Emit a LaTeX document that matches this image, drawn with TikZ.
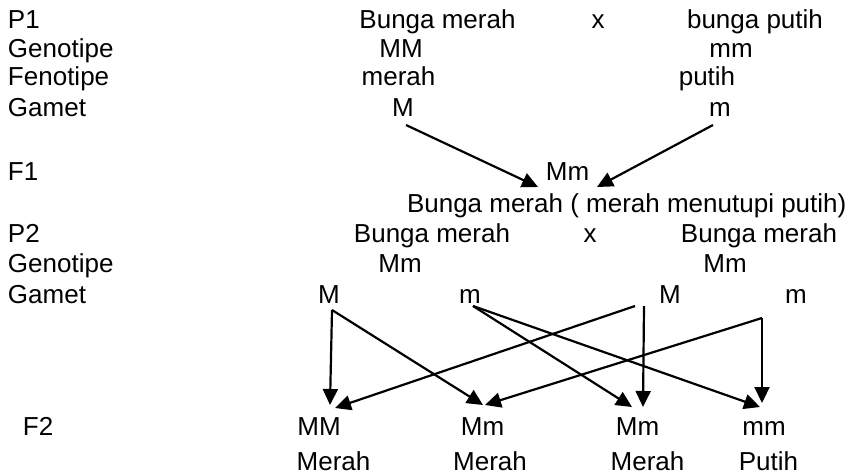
\documentclass[tikz,border=0pt]{standalone}
\usepackage{fontspec}
\setmainfont{Liberation Sans}
\usetikzlibrary{arrows.meta}
\begin{document}
\begin{tikzpicture}[x=1pt,y=-1pt,
  txt/.style={inner sep=0pt,outer sep=0pt,anchor=base,font=\fontsize{26}{30}\selectfont},
  lbl/.style={txt,anchor=base west},
  arr/.style={line width=2.2pt,-{Triangle[length=16pt,width=15pt]}}]
\useasboundingbox[fill=white] (0,0) rectangle (856,476);
% left labels
\node[lbl] (lP1) at (8,28.5) {P1};
\node[lbl] (lG1) at (8,57.5) {Genotipe};
\node[lbl] (lF1) at (8,85.5) {Fenotipe};
\node[lbl] (lGa1) at (8,117) {Gamet};
\node[lbl] (lFF1) at (8,180) {F1};
\node[lbl] (lP2) at (8,242) {P2};
\node[lbl] (lG2) at (8,272) {Genotipe};
\node[lbl] (lGa2) at (8,303) {Gamet};
\node[lbl] (lFF2) at (23,435) {F2};
% P1
\node[txt] (p1a) at (437.5,28.5) {Bunga merah};
\node[txt] (p1x) at (598,28.5) {x};
\node[txt] (p1b) at (755,28.5) {bunga putih};
\node[txt] (g1a) at (401,57.5) {MM};
\node[txt] (g1b) at (731,57.5) {mm};
\node[txt] (f1a) at (398.5,85.5) {merah};
\node[txt] (f1b) at (707,85.5) {putih};
\node[txt] (gM1) at (403,117) {M};
\node[txt] (gm1) at (720,117) {m};
% F1
\node[txt] (F1) at (567.5,180) {Mm};
\node[txt,anchor=base west] (F1t) at (407,212) {Bunga merah ( merah menutupi putih)};
% P2
\node[txt] (p2a) at (432,242) {Bunga merah};
\node[txt] (p2x) at (590,242) {x};
\node[txt] (p2b) at (759,242) {Bunga merah};
\node[txt] (g2a) at (400,272) {Mm};
\node[txt] (g2b) at (725,272) {Mm};
\node[txt] (gM2) at (329,303) {M};
\node[txt] (gm2) at (470,303) {m};
\node[txt] (gM3) at (670,303) {M};
\node[txt] (gm3) at (796,303) {m};
% F2
\node[txt] (oMM) at (319,435) {MM};
\node[txt] (oMa) at (482.5,435) {Mm};
\node[txt] (oMb) at (637.5,435) {Mm};
\node[txt] (omm) at (764,435) {mm};
\node[txt] (ph1) at (333.5,470) {Merah};
\node[txt] (ph2) at (490,470) {Merah};
\node[txt] (ph3) at (647.5,470) {Merah};
\node[txt] (ph4) at (768.5,470) {Putih};
% arrows F1
\draw[arr] ([shift={(3,8)}]gM1.base) -- ([shift={(-29.5,7)}]F1.base);
\draw[arr] ([shift={(-7,8)}]gm1.base) -- ([shift={(29.5,7)}]F1.base);
% arrows F2
\draw[arr] ([shift={(3,7)}]gM2.base) -- ([shift={(11,-30)}]oMM.base);
\draw[arr] ([shift={(3,7)}]gM2.base) -- ([shift={(0.5,-30)}]oMa.base);
\draw[arr] ([shift={(3,3)}]gm2.base) -- ([shift={(-5.5,-28)}]oMb.base);
\draw[arr] ([shift={(3,3)}]gm2.base) -- ([shift={(-4,-28)}]omm.base);
\draw[arr] ([shift={(-26,3)}]gM3.base) -- ([shift={(5.5,-28)}]oMb.base);
\draw[arr] ([shift={(-35,3)}]gM3.base) -- ([shift={(16,-27)}]oMM.base);
\draw[arr] ([shift={(-34,15)}]gm3.base) -- ([shift={(-2,-32)}]omm.base);
\draw[arr] ([shift={(-34,15)}]gm3.base) -- ([shift={(2.5,-30)}]oMa.base);
\end{tikzpicture}
\end{document}
